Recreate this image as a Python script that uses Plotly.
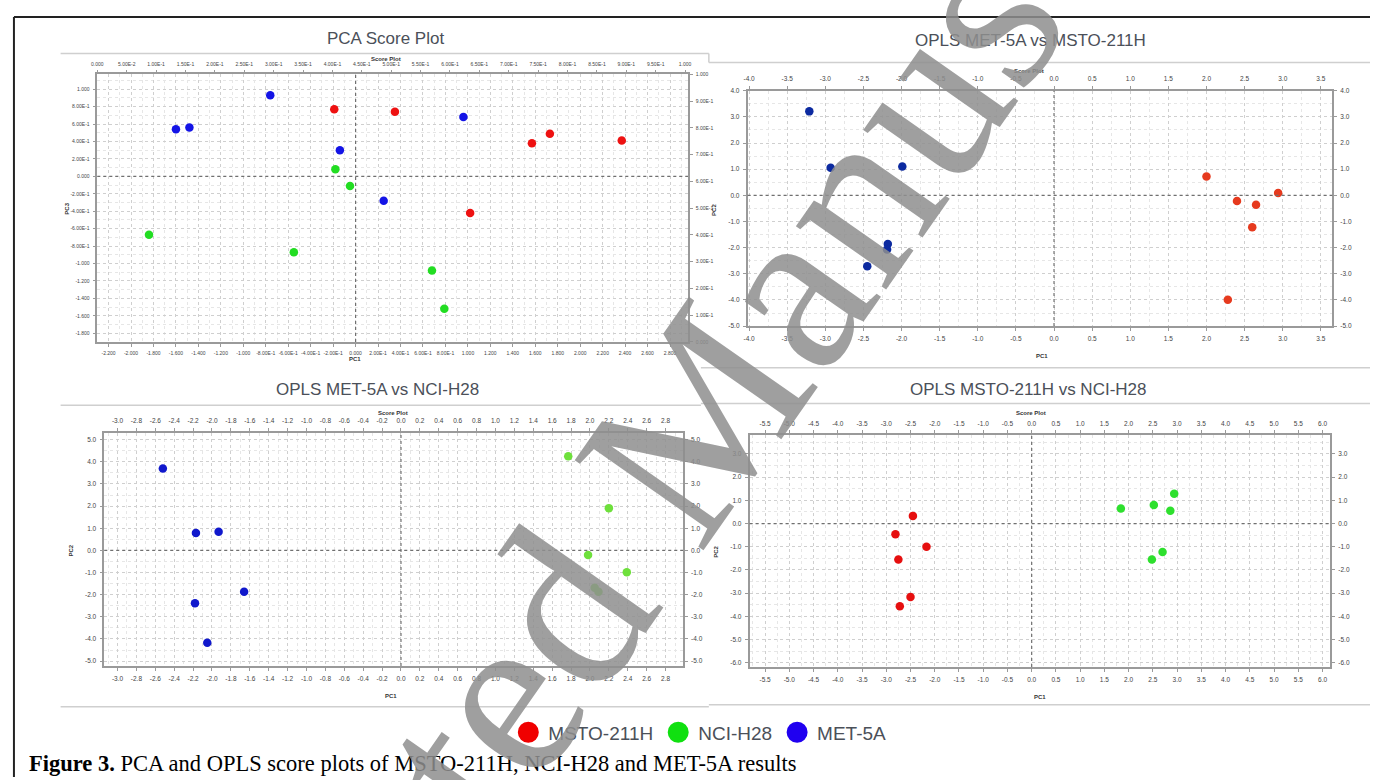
import plotly.graph_objects as go

W, H = 1374, 780

# ---------------- data ----------------
classes = ["MSTO-211H", "NCI-H28", "MET-5A"]
legend_colors = ["#f00000", "#10e010", "#2000f0"]

# PCA score plot (PC1 vs PC3)
pca_msto_x = [-0.19, 0.35, 1.57, 1.73, 2.37, 1.02]
pca_msto_y = [0.77, 0.74, 0.38, 0.49, 0.41, -0.42]
pca_nci_x = [-0.18, -0.05, -1.84, -0.55, 0.68, 0.79]
pca_nci_y = [0.08, -0.11, -0.67, -0.87, -1.08, -1.52]
pca_met_x = [-0.76, -1.60, -1.48, 0.96, -0.14, 0.25]
pca_met_y = [0.93, 0.54, 0.56, 0.68, 0.30, -0.28]

# OPLS MET-5A vs MSTO-211H
o1_met_x = [-3.21, -2.93, -1.99, -2.18, -2.19, -2.45]
o1_met_y = [3.21, 1.05, 1.10, -1.86, -2.07, -2.71]
o1_msto_x = [2.00, 2.40, 2.65, 2.94, 2.60, 2.28]
o1_msto_y = [0.72, -0.22, -0.36, 0.09, -1.22, -3.99]

# OPLS MET-5A vs NCI-H28
o2_met_x = [-2.52, -2.17, -1.93, -1.66, -2.18, -2.05]
o2_met_y = [3.70, 0.79, 0.84, -1.87, -2.39, -4.17]
o2_nci_x = [1.77, 2.20, 1.98, 2.39, 2.05, 2.09]
o2_nci_y = [4.25, 1.91, -0.21, -0.99, -1.69, -1.87]

# OPLS MSTO-211H vs NCI-H28
o3_msto_x = [-2.45, -2.81, -2.17, -2.75, -2.50, -2.72]
o3_msto_y = [0.33, -0.46, -1.00, -1.55, -3.16, -3.56]
o3_nci_x = [2.94, 1.84, 2.52, 2.86, 2.70, 2.48]
o3_nci_y = [1.28, 0.65, 0.80, 0.55, -1.23, -1.55]

panel_titles = ["PCA Score Plot", "OPLS MET-5A vs MSTO-211H",
                "OPLS MET-5A vs NCI-H28", "OPLS MSTO-211H vs NCI-H28"]
y_titles = ["PC3", "PC2", "PC2", "PC2"]
caption = "<b>Figure 3.</b> PCA and OPLS score plots of MSTO-211H, NCI-H28 and MET-5A results"
watermark = "Accepted Manuscript"


def steps(a, b, s):
    n = int(round((b - a) / s))
    return [round(a + i * s, 4) for i in range(n + 1)]


def pca_fmt(v):
    if abs(v) < 1e-9:
        return "0.000"
    if abs(v) < 1:
        m, e = f"{v:.2E}".split("E")
        return f"{m}E{int(e)}"
    return f"{v:.3f}"


def f1(v):
    return f"{0.0 if abs(v) < 1e-9 else v:.1f}"


# ---------------- panel geometry (pixels) ----------------
panels = [
    dict(l=92, r=687, t=71, b=341, xr=[-2.30, 2.96], yr=[-1.90, 1.17],
         xt=steps(-2.2, 2.8, 0.2), yt=steps(-1.8, 1.0, 0.2), fmt=pca_fmt,
         top_r=[0, 1.005], top_t=steps(0, 1, 0.05), right_r=[0, 1], right_t=steps(0, 1, 0.1),
         xminor=0.1, yminor=0.1, fs=5,
         title_xy=(382, 35), sp_xy=(383, 55), pc1_xy=(352, 358), yt_xy=(62, 207)),
    dict(l=747, r=1336, t=87.5, b=325, xr=[-4.02, 3.65], yr=[-5.0, 4.0],
         xt=steps(-4.0, 3.5, 0.5), yt=steps(-5.0, 4.0, 1.0), fmt=f1,
         xminor=0.25, yminor=0.5, fs=6.5,
         title_xy=(1032, 37), sp_xy=(1031, 68), pc1_xy=(1044, 355), yt_xy=(713, 208)),
    dict(l=99, r=682, t=432.5, b=668, xr=[-3.14, 2.985], yr=[-5.22, 5.32],
         xt=steps(-3.0, 2.8, 0.2), yt=steps(-5.0, 5.0, 1.0), fmt=f1,
         xminor=0.1, yminor=0.5, fs=6.5,
         title_xy=(374, 389), sp_xy=(390, 413), pc1_xy=(388, 698), yt_xy=(66, 552)),
    dict(l=749, r=1334, t=435, b=669, xr=[-5.82, 6.16], yr=[-6.18, 3.81],
         xt=steps(-5.5, 6.0, 0.5), yt=steps(-6.0, 3.0, 1.0), fmt=f1,
         xminor=0.25, yminor=0.5, fs=6.5,
         title_xy=(1030, 389), sp_xy=(1033, 413), pc1_xy=(1042, 699), yt_xy=(715, 553)),
]

series = [
    [("MSTO-211H", pca_msto_x, pca_msto_y, "#ee1111"),
     ("NCI-H28", pca_nci_x, pca_nci_y, "#22dd22"),
     ("MET-5A", pca_met_x, pca_met_y, "#1414e6")],
    [("MET-5A", o1_met_x, o1_met_y, "#0c2aa0"),
     ("MSTO-211H", o1_msto_x, o1_msto_y, "#e63a1e")],
    [("MET-5A", o2_met_x, o2_met_y, "#1018cc"),
     ("NCI-H28", o2_nci_x, o2_nci_y, "#6ee03c")],
    [("MSTO-211H", o3_msto_x, o3_msto_y, "#e60f0f"),
     ("NCI-H28", o3_nci_x, o3_nci_y, "#2ee02e")],
]

fig = go.Figure()
layout = dict(width=W, height=H, margin=dict(l=0, r=0, t=0, b=0),
              paper_bgcolor="white", plot_bgcolor="rgba(0,0,0,0)", showlegend=True)
shapes, annotations = [], []

AX_COL = "#9a9a9a"
TICK_FONT_COL = "#444444"
TXT_COL = "#4b5059"


def px(xp):
    return xp / W


def py(yp):
    return 1 - yp / H


def minor_vals(rng, step):
    vals = []
    v = (int(rng[0] / step) - 1) * step
    while v <= rng[1] + step:
        if rng[0] <= v <= rng[1]:
            vals.append(round(v, 4))
        v += step
    return vals


for k, p in enumerate(panels):
    bx = 2 * k + 1
    tx = 2 * k + 2
    xs = "" if bx == 1 else str(bx)
    xb_name, yb_name = "x" + xs, "y" + xs
    xt_name, yr_name = "x" + str(tx), "y" + str(tx)
    xdom = [px(p["l"]), px(p["r"])]
    ydom = [py(p["b"]), py(p["t"])]
    fs = p["fs"]
    common = dict(showline=True, linecolor=AX_COL, linewidth=1.5, ticks="outside",
                  ticklen=3, tickcolor=AX_COL, tickwidth=1, zeroline=False,
                  tickfont=dict(size=fs, color=TICK_FONT_COL, family="Liberation Sans"),
                  ticklabelstandoff=2)
    layout["xaxis" + xs] = dict(
        domain=xdom, range=p["xr"], anchor=yb_name, tickvals=p["xt"],
        ticktext=[p["fmt"](v) for v in p["xt"]], showgrid=True, gridcolor="#cfcfcf",
        griddash="dot", gridwidth=1,
        minor=dict(tickvals=minor_vals(p["xr"], p["xminor"]), showgrid=True,
                   gridcolor="#e6e6e6", griddash="dot", ticks=""),
        **common)
    layout["yaxis" + xs] = dict(
        domain=ydom, range=p["yr"], anchor=xb_name, tickvals=p["yt"],
        ticktext=[p["fmt"](v) for v in p["yt"]], showgrid=True, gridcolor="#cfcfcf",
        griddash="dot", gridwidth=1,
        minor=dict(tickvals=minor_vals(p["yr"], p["yminor"]), showgrid=True,
                   gridcolor="#e6e6e6", griddash="dot", ticks=""),
        **common)
    top_r = p.get("top_r", p["xr"])
    top_t = p.get("top_t", p["xt"])
    right_r = p.get("right_r", p["yr"])
    right_t = p.get("right_t", p["yt"])
    layout["xaxis" + str(tx)] = dict(
        overlaying=xb_name, side="top", anchor=yb_name, range=top_r, tickvals=top_t,
        ticktext=[p["fmt"](v) for v in top_t], showgrid=False, **common)
    layout["yaxis" + str(tx)] = dict(
        overlaying=yb_name, side="right", anchor=xb_name, range=right_r, tickvals=right_t,
        ticktext=[p["fmt"](v) for v in right_t], showgrid=False, **common)

    # empty traces to activate the mirrored top / right axes
    fig.add_trace(go.Scatter(x=[], y=[], xaxis=xt_name, yaxis=yb_name, showlegend=False,
                             hoverinfo="skip"))
    fig.add_trace(go.Scatter(x=[], y=[], xaxis=xb_name, yaxis=yr_name, showlegend=False,
                             hoverinfo="skip"))

    for name, xv, yv, col in series[k]:
        fig.add_trace(go.Scatter(x=xv, y=yv, mode="markers", name=name, legendgroup=name,
                                 showlegend=False, xaxis=xb_name, yaxis=yb_name,
                                 marker=dict(size=8.5, color=col, line=dict(width=0))))

    # dotted zero lines
    shapes.append(dict(type="line", xref=xb_name, yref=yb_name + " domain", x0=0, x1=0,
                       y0=0, y1=1, line=dict(color="#707070", width=1.2, dash="dot")))
    shapes.append(dict(type="line", xref=xb_name + " domain", yref=yb_name, x0=0, x1=1,
                       y0=0, y1=0, line=dict(color="#707070", width=1.2, dash="dot")))

    # texts
    tx_, ty_ = p["title_xy"]
    annotations.append(dict(text=panel_titles[k], x=px(tx_), y=py(ty_), xref="paper",
                            yref="paper", showarrow=False, xanchor="center", yanchor="middle",
                            font=dict(size=17, color=TXT_COL, family="Liberation Sans")))
    sx, sy = p["sp_xy"]
    annotations.append(dict(text="<b>Score Plot</b>", x=px(sx), y=py(sy), xref="paper",
                            yref="paper", showarrow=False, xanchor="center", yanchor="middle",
                            font=dict(size=6, color="#333333", family="Liberation Sans")))
    cx, cy = p["pc1_xy"]
    annotations.append(dict(text="<b>PC1</b>", x=px(cx), y=py(cy), xref="paper",
                            yref="paper", showarrow=False, xanchor="center", yanchor="middle",
                            font=dict(size=6, color="#333333", family="Liberation Sans")))
    ax_, ay_ = p["yt_xy"]
    annotations.append(dict(text="<b>" + y_titles[k] + "</b>", x=px(ax_), y=py(ay_),
                            xref="paper", yref="paper", showarrow=False, textangle=-90,
                            xanchor="center", yanchor="middle",
                            font=dict(size=6, color="#333333", family="Liberation Sans")))

# legend entries (no data drawn)
for name, col in zip(classes, legend_colors):
    fig.add_trace(go.Scatter(x=[None], y=[None], mode="markers", name=name,
                             legendgroup=name, showlegend=True,
                             marker=dict(size=16, color=col, line=dict(width=5, color=col))))

layout["legend"] = dict(orientation="h", x=px(506), y=py(735), xanchor="left",
                        yanchor="middle", bgcolor="rgba(0,0,0,0)", itemsizing="trace",
                        font=dict(size=19, color=TXT_COL, family="Liberation Sans"))

# frame / separator lines
LINE = dict(color="#cfcfcf", width=1.5)
seg = [
    (55, 50, 708, 50), (708, 50, 708, 59), (708, 59, W, 59),
    (700, 367, W, 367),
    (55, 405, 700, 405), (700, 403, W, 403),
    (55, 709, 708, 709), (708, 707, W, 707),
]
for x0, y0, x1, y1 in seg:
    shapes.append(dict(type="line", xref="paper", yref="paper", x0=px(x0), y0=py(y0),
                       x1=px(x1), y1=py(y1), line=LINE))
shapes.append(dict(type="line", xref="paper", yref="paper", x0=px(8), y0=py(13),
                   x1=1, y1=py(13), line=dict(color="#222222", width=2)))
shapes.append(dict(type="line", xref="paper", yref="paper", x0=px(8), y0=py(13),
                   x1=px(8), y1=0, line=dict(color="#222222", width=2)))

# caption
annotations.append(dict(text=caption, x=px(21), y=py(766), xref="paper", yref="paper",
                        showarrow=False, xanchor="left", yanchor="middle",
                        font=dict(size=22.5, color="black", family="Liberation Serif")))

# watermark
annotations.append(dict(text=watermark, x=px(668), y=py(458), xref="paper",
                        yref="paper", showarrow=False, xanchor="center", yanchor="middle",
                        textangle=-55, opacity=0.85,
                        font=dict(size=240, color="#8f8f8f", family="Liberation Serif")))

layout["shapes"] = shapes
layout["annotations"] = annotations
fig.update_layout(**layout)
fig.write_html("out.html", config={"displayModeBar": False},
               post_script="document.body.style.margin='0';document.body.style.overflow='hidden';")
